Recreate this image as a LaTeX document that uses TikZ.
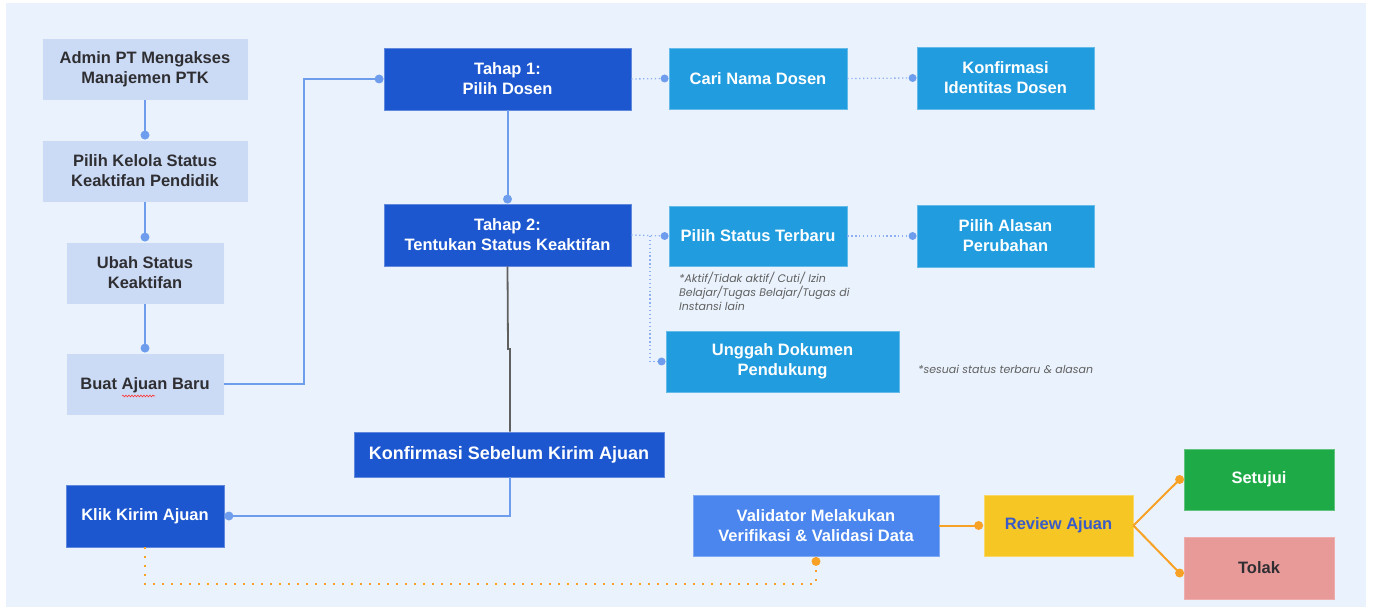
\documentclass[tikz,border=0pt]{standalone}
\usepackage{fontspec}
\setmainfont{Liberation Sans}
\newfontfamily\notefont{Poppins}
\usetikzlibrary{decorations.pathmorphing}
\definecolor{bgc}{HTML}{EAF3FD}
\definecolor{lightb}{HTML}{CCDBF5}
\definecolor{darkb}{HTML}{1C57D0}
\definecolor{midb}{HTML}{219DDF}
\definecolor{valb}{HTML}{4A86EE}
\definecolor{lineb}{HTML}{6F9DED}
\definecolor{dotl}{HTML}{8FB0EE}
\definecolor{orng}{HTML}{F7A125}
\definecolor{grn}{HTML}{1EAA47}
\definecolor{pnk}{HTML}{E89A99}
\definecolor{ylw}{HTML}{F6C624}
\definecolor{txtd}{HTML}{2F2F33}
\definecolor{revt}{HTML}{3A5BC7}
\tikzset{
  boxbase/.style={rectangle, inner sep=0pt, align=center, font=\fontsize{16.5}{20}\selectfont\bfseries},
  lbox/.style={boxbase, fill=lightb, draw=white!60!lightb, line width=0.8pt, text=txtd},
  dbox/.style={boxbase, fill=darkb, draw=darkb!70!white, line width=0.8pt, text=white},
  mbox/.style={boxbase, fill=midb, draw=midb!70!white, line width=0.8pt, text=white},
  bline/.style={draw=lineb, line width=2pt},
  gline/.style={draw=gray!75!black, line width=1.8pt},
  dline/.style={draw=dotl, line width=1.3pt, dash pattern=on 1.3pt off 2.6pt},
  oline/.style={draw=orng, line width=2pt},
  odot/.style={draw=orng, line width=2pt, dash pattern=on 2pt off 7pt},
  bdot/.style={circle, fill=lineb, inner sep=0pt, minimum size=9pt},
  odotn/.style={circle, fill=orng, inner sep=0pt, minimum size=9pt},
  note/.style={inner sep=0pt, anchor=north west, align=left, text=gray!75!black, font=\notefont\itshape\fontsize{11}{14}\selectfont},
}
\begin{document}
\begin{tikzpicture}[x=1pt,y=-1pt]
\useasboundingbox (0,0) rectangle (1373,609);
\fill[white] (0,0) rectangle (1373,609);
\fill[bgc] (6,3) rectangle (1366,607);

% left column
\node[lbox, minimum width=206pt, minimum height=62pt] (a) at (145,69) {Admin PT Mengakses\\Manajemen PTK};
\node[lbox, minimum width=206pt, minimum height=62pt] (b) at (145,171) {Pilih Kelola Status\\Keaktifan Pendidik};
\node[lbox, minimum width=158pt, minimum height=62pt] (c) at (145,273) {Ubah Status\\Keaktifan};
\node[lbox, minimum width=158pt, minimum height=62pt] (d) at (145,384) {Buat \smash{Ajuan} Baru};
\node[dbox, minimum width=158pt, minimum height=62pt] (e) at (145,516) {Klik Kirim Ajuan};

% middle column
\node[dbox, minimum width=247pt, minimum height=62pt] (t1) at (507.5,79) {Tahap 1:\\Pilih Dosen};
\node[dbox, minimum width=247pt, minimum height=62pt] (t2) at (507.5,235) {Tahap 2:\\Tentukan Status Keaktifan};
\node[dbox, minimum width=310pt, minimum height=45pt, font=\fontsize{18}{20}\selectfont\bfseries] (k) at (509,454.5) {Konfirmasi Sebelum Kirim Ajuan};

% right boxes
\node[mbox, minimum width=178pt, minimum height=61pt] (cari) at (758,78.5) {Cari Nama Dosen};
\node[mbox, minimum width=177pt, minimum height=62pt] (kid) at (1005.5,78) {Konfirmasi\\Identitas Dosen};
\node[mbox, minimum width=178pt, minimum height=60pt] (pst) at (758,236) {Pilih Status Terbaru};
\node[mbox, minimum width=177pt, minimum height=62pt] (pal) at (1005.5,236) {Pilih Alasan\\Perubahan};
\node[mbox, minimum width=233pt, minimum height=61pt] (ung) at (782.5,361.5) {Unggah Dokumen\\Pendukung};

\node[note] (n1) at (679,272) {*Aktif/Tidak aktif/ Cuti/ Izin\\Belajar/Tugas Belajar/Tugas di\\Instansi lain};
\node[note, anchor=west] (n2) at (918,369) {*sesuai status terbaru \& alasan};

% bottom right
\node[boxbase, fill=valb, draw=valb!70!white, line width=0.8pt, text=white, minimum width=246pt, minimum height=61pt] (v) at (816,525.5) {Validator Melakukan\\Verifikasi \& Validasi Data};
\node[boxbase, fill=ylw, draw=ylw!70!white, line width=0.8pt, text=revt, minimum width=149pt, minimum height=61pt] (r) at (1058.5,525.5) {Review Ajuan};
\node[boxbase, fill=grn, draw=grn!70!white, line width=0.8pt, text=white, minimum width=150pt, minimum height=61pt] (s) at (1259,479.5) {Setujui};
\node[boxbase, fill=pnk, draw=pnk!80!white, line width=0.8pt, text=txtd, minimum width=150pt, minimum height=62pt] (tl) at (1259,568) {Tolak};

% spell-check squiggle under "Ajuan"
\draw[red!80, line width=0.6pt, decorate, decoration={snake, amplitude=0.9pt, segment length=3pt}] (122,396) -- (155,396);

% left column connectors
\draw[bline] (a.south) -- ([yshift=4.5pt]b.north) node[bdot]{};
\draw[bline] (b.south) -- ([yshift=4.5pt]c.north) node[bdot]{};
\draw[bline] (c.south) -- ([yshift=4.5pt]d.north) node[bdot]{};

% Buat -> Tahap 1
\coordinate (j1) at (304,384);
\draw[bline] (d.east) -- (j1) |- ([xshift=-4.5pt]t1.west) node[bdot]{};

% Tahap1 -> Tahap2
\draw[bline] (t1.south) -- ([yshift=4.5pt]t2.north) node[bdot]{};

% dotted connectors
\draw[dline] (t1.east) -- ([xshift=-4pt]cari.west) node[bdot, minimum size=8pt]{};
\draw[dline] (cari.east) -- ([xshift=-4pt]kid.west) node[bdot, minimum size=8pt]{};
\draw[dline] (t2.east) -- ([xshift=-4pt]pst.west) node[bdot, minimum size=8pt]{};
\draw[dline] (pst.east) -- ([xshift=-4pt]pal.west) node[bdot, minimum size=8pt]{};
\coordinate (j2) at (650,236);
\draw[dline] (j2) |- ([xshift=-4pt]ung.west) node[bdot, minimum size=8pt]{};

% Tahap2 -> Konfirmasi
\draw[gline] (t2.south) -- (508,349) -- (510,349) -- (k.north -| 510,0);

% Konfirmasi -> Klik Kirim
\coordinate (j3) at (510,516);
\draw[bline] (k.south -| j3) -- (j3) -- ([xshift=4.5pt]e.east) node[bdot]{};

% Klik Kirim -> Validator (orange dotted)
\coordinate (j4) at (145,584);
\coordinate (j5) at (816,584);
\draw[odot] (e.south) -- (j4) -- (j5) -- ([yshift=-5pt]v.south) node[odotn]{};

% Validator -> Review
\draw[oline] (v.east) -- ([xshift=-5pt]r.west) node[odotn]{};
\draw[oline] (r.east) -- ([xshift=-4pt]s.west) node[odotn]{};
\draw[oline] (r.east) -- ([xshift=-4pt,yshift=-5pt]tl.west) node[odotn]{};
\end{tikzpicture}
\end{document}
